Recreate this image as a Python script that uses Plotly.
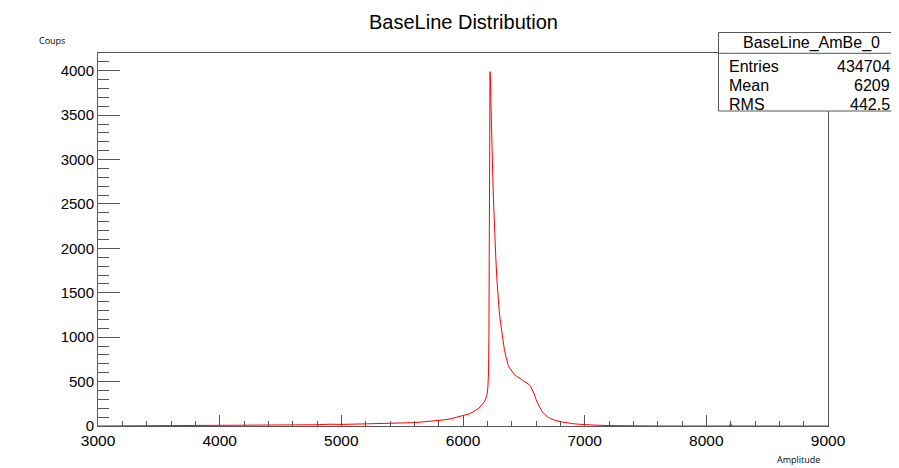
import plotly.graph_objects as go

# ---- data (bin centre, counts) ----
amplitude = [3000, 3200, 3400, 3600, 3800, 4000, 4200, 4400, 4600, 4800,
             4900, 5000, 5200, 5400, 5500, 5600, 5700, 5800, 5850, 5900,
             5950, 6000, 6050, 6080, 6100, 6130, 6150, 6170, 6185, 6195,
             6200, 6205, 6210, 6213, 6216, 6219, 6222, 6225, 6228, 6232,
             6236, 6240, 6245, 6250, 6255, 6260, 6265, 6270, 6280, 6290,
             6300, 6310, 6320, 6330, 6340, 6350, 6360, 6370, 6380, 6390,
             6400, 6420, 6440, 6460, 6480, 6500, 6520, 6540, 6556, 6570,
             6585, 6600, 6620, 6640, 6660, 6680, 6700, 6720, 6750, 6800,
             6850, 6900, 6950, 7000, 7100, 7200, 7300, 7400, 7600, 8190,
             8200, 8210, 9000]
counts = [0, 1, 2, 3, 4, 6, 7, 9, 11, 14,
          20, 18, 24, 30, 34, 38, 50, 60, 70, 82,
          96, 118, 135, 155, 172, 200, 228, 262, 300, 345,
          370, 450, 620, 1000, 2000, 3200, 3990, 3930, 3720, 3560,
          3380, 3100, 2800, 2560, 2330, 2160, 2000, 1880, 1620, 1420,
          1260, 1150, 1040, 940, 860, 800, 740, 690, 660, 640,
          610, 585, 560, 545, 525, 505, 490, 470, 445, 410,
          360, 300, 240, 185, 145, 118, 98, 84, 67, 48,
          35, 27, 20, 14, 9, 5, 3, 1, 0, 0,
          32, 0, 0]

title_text = "BaseLine Distribution"
x_title = "Amplitude"
y_title = "Coups"
stats_name = "BaseLine_AmBe_0"
stats_labels = ["Entries", "Mean", "RMS"]
stats_values = ["434704", "6209", "442.5"]

FONT = "Liberation Sans, Arial, Helvetica, sans-serif"
AXC = "#555555"

# the page body has an 8px margin: work in page pixels and shift
OFF = 8
W, H = 899 - OFF, 468 - OFF
L, R, T, B = 98, 828, 53, 426          # plot frame in page pixels


def px(xp):
    return (xp - L) / (R - L)


def py(yp):
    return (B - yp) / (B - T)


fig = go.Figure()
fig.add_trace(go.Scatter(x=amplitude, y=counts, mode="lines",
                         line=dict(color="#ff0000", width=1),
                         hoverinfo="x+y", showlegend=False))

fig.update_layout(
    width=W, height=H,
    margin=dict(l=L - OFF, r=899 - R, t=T - OFF, b=468 - B),
    paper_bgcolor="white", plot_bgcolor="white",
    font=dict(family=FONT, color="black"),
    showlegend=False,
)

fig.update_xaxes(range=[3000, 9000], dtick=1000, tick0=3000,
                 ticks="inside", ticklen=11, tickwidth=1, tickcolor=AXC,
                 minor=dict(dtick=200, ticks="inside", ticklen=5, tickcolor=AXC),
                 showline=True, linecolor=AXC, linewidth=1, mirror=True,
                 showgrid=False, zeroline=False,
                 tickfont=dict(size=15.5, family=FONT, color="black"))
fig.update_yaxes(range=[0, 4200], dtick=500, tick0=0,
                 ticks="inside", ticklen=22, tickwidth=1, tickcolor=AXC,
                 minor=dict(dtick=100, ticks="inside", ticklen=11, tickcolor=AXC),
                 showline=True, linecolor=AXC, linewidth=1, mirror=True,
                 showgrid=False, zeroline=False,
                 tickfont=dict(size=15, family=FONT, color="black"))

ann = []
ann.append(dict(text=title_text, x=px(463), y=py(22), xref="paper", yref="paper",
                showarrow=False, xanchor="center", yanchor="middle",
                font=dict(size=20, family=FONT, color="black")))
ann.append(dict(text=y_title, x=px(52), y=py(41), xref="paper", yref="paper",
                showarrow=False, xanchor="center", yanchor="middle",
                font=dict(size=9, family="Open Sans, sans-serif", color="black")))
ann.append(dict(text=x_title, x=px(798), y=py(459), xref="paper", yref="paper",
                showarrow=False, xanchor="center", yanchor="middle",
                font=dict(size=9, family="Open Sans, sans-serif", color="black")))

# stats box
shapes = [
    dict(type="rect", xref="paper", yref="paper",
         x0=px(718.5), x1=px(905), y0=py(111), y1=py(32.5),
         fillcolor="white", line=dict(color=AXC, width=1), layer="above"),
    dict(type="line", xref="paper", yref="paper",
         x0=px(718.5), x1=px(905), y0=py(53.3), y1=py(53.3),
         line=dict(color=AXC, width=1), layer="above"),
]
ann.append(dict(text=stats_name, x=px(811), y=py(43), xref="paper", yref="paper",
                showarrow=False, xanchor="center", yanchor="middle",
                font=dict(size=16, family=FONT, color="black")))
rows_y = [66.5, 85.5, 104]
for lab, val, yy in zip(stats_labels, stats_values, rows_y):
    ann.append(dict(text=lab, x=px(727), y=py(yy), xref="paper", yref="paper",
                    showarrow=False, xanchor="left", yanchor="middle",
                    font=dict(size=16, family=FONT, color="black")))
    ann.append(dict(text=val, x=px(892), y=py(yy), xref="paper", yref="paper",
                    showarrow=False, xanchor="right", yanchor="middle",
                    font=dict(size=16, family=FONT, color="black")))

fig.update_layout(annotations=ann, shapes=shapes)
fig.write_html("out.html")
